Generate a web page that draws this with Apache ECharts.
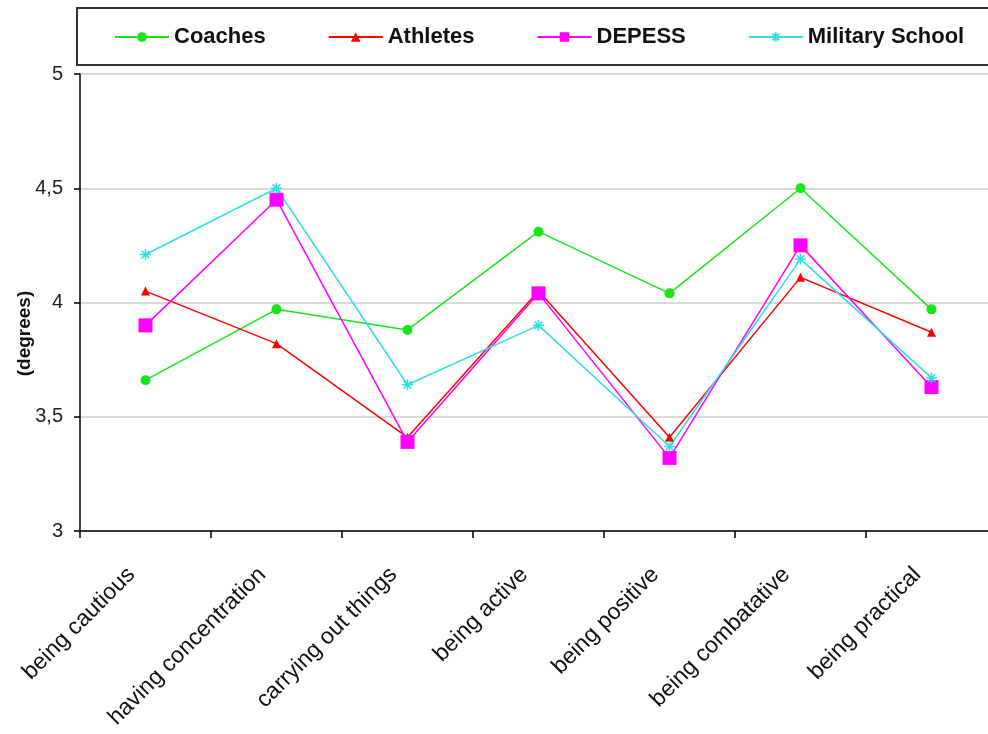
<!DOCTYPE html>
<html>
<head>
<meta charset="utf-8">
<script src="https://cdn.jsdelivr.net/npm/echarts@6/dist/echarts.min.js"></script>
<style>
  html, body { margin: 0; padding: 0; background: #fff; }
  #chart { width: 988px; height: 734px; }
</style>
</head>
<body>
<div id="chart"></div>
<script>
// categories and values
const categories = ['being cautious', 'having concentration', 'carrying out things',
    'being active', 'being positive', 'being combatative', 'being practical'];
const coaches = [3.66, 3.97, 3.88, 4.31, 4.04, 4.50, 3.97];
const athletes = [4.05, 3.82, 3.41, 4.05, 3.41, 4.11, 3.87];
const depess = [3.90, 4.45, 3.39, 4.04, 3.32, 4.25, 3.63];
const military = [4.21, 4.50, 3.64, 3.90, 3.37, 4.19, 3.67];
const seriesNames = ['Coaches', 'Athletes', 'DEPESS', 'Military School'];

const asterisk = 'path://M0,5 L10,5 M5,0 L5,10 M1.5,1.5 L8.5,8.5 M8.5,1.5 L1.5,8.5';

let myChart = echarts.init(document.getElementById('chart'));

const lineSeries = function (name, data, color, symbol, size) {
    return {
        name: name,
        type: 'line',
        data: data,
        symbol: symbol,
        symbolSize: size,
        lineStyle: { color: color, width: 1.5 },
        itemStyle: { color: color, borderColor: color, borderWidth: symbol === asterisk ? 1.5 : 0 },
        emphasis: { disabled: true },
        z: 3
    };
};

const option = {
    backgroundColor: '#fff',
    animation: false,
    textStyle: { fontFamily: 'Liberation Sans, Arial, sans-serif' },
    grid: { left: 80, right: -9, top: 74, bottom: 203, containLabel: false, outerBoundsMode: 'none' },
    graphic: [{
        type: 'rect',
        shape: { x: 77, y: 8, width: 930, height: 57 },
        style: { fill: 'none', stroke: '#333', lineWidth: 2 },
        z: 0
    }],
    legend: {
        data: seriesNames,
        left: 109,
        top: 21,
        itemWidth: 54,
        itemHeight: 12,
        itemGap: 62,
        textStyle: { fontSize: 22, fontWeight: 'bold', color: '#111' }
    },
    xAxis: {
        type: 'category',
        data: categories,
        boundaryGap: true,
        axisLine: { lineStyle: { color: '#000', width: 1.5 } },
        axisTick: { show: true, interval: 0, length: 7, lineStyle: { color: '#000', width: 1.5 } },
        axisLabel: { rotate: 45, fontSize: 23, color: '#111', margin: 26, interval: 0, padding: [0, 20, 0, 0] },
        splitLine: { show: false }
    },
    yAxis: {
        type: 'value',
        min: 3,
        max: 5,
        interval: 0.5,
        name: '(degrees)',
        nameLocation: 'middle',
        nameGap: 46,
        nameRotate: 90,
        nameMoveOverlap: false,
        nameTextStyle: { fontSize: 19, fontWeight: 'bold', color: '#111', padding: [0, 62, 0, 0] },
        axisLine: { show: true, lineStyle: { color: '#000', width: 1.5 } },
        axisTick: { show: true, length: 6, lineStyle: { color: '#000', width: 1.5 } },
        axisLabel: {
            fontSize: 20, color: '#222', margin: 17,
            formatter: function (v) { return String(v).replace('.', ','); }
        },
        splitLine: { lineStyle: { color: '#dadada', width: 2 } }
    },
    series: [
        lineSeries('Coaches', coaches, '#19e619', 'circle', 10),
        lineSeries('Athletes', athletes, '#ff0000', 'triangle', 9),
        lineSeries('DEPESS', depess, '#ff00ff', 'rect', 14),
        lineSeries('Military School', military, '#30e0e0', asterisk, 11)
    ]
};

myChart.setOption(option);
</script>
</body>
</html>
